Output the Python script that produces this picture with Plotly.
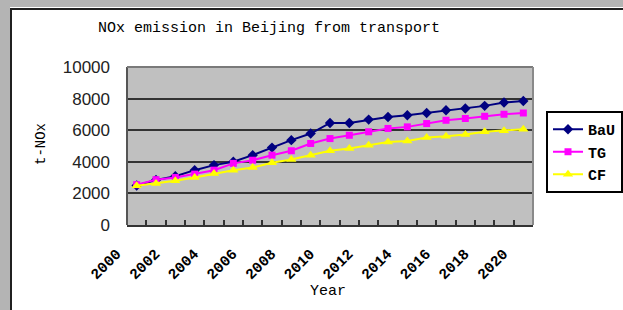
import plotly.graph_objects as go

# ---------------- data ----------------
years = list(range(2000, 2021))
bau = [2500, 2850, 3090, 3470, 3790, 4000, 4420, 4900, 5370, 5790, 6460,
       6460, 6670, 6840, 6950, 7090, 7260, 7370, 7540, 7750, 7850]
tg = [2550, 2870, 3010, 3220, 3470, 3900, 4100, 4420, 4700, 5160, 5470,
      5680, 5900, 6110, 6210, 6420, 6630, 6740, 6880, 7010, 7090]
cf = [2480, 2630, 2800, 3010, 3260, 3470, 3640, 3940, 4150, 4420, 4700,
      4840, 5050, 5260, 5310, 5540, 5620, 5730, 5900, 5960, 6060]
label_years = list(range(2000, 2021, 2))
label_text = [str(y) for y in label_years]
series_names = ["BaU", "TG", "CF"]
y_ticks = [0, 2000, 4000, 6000, 8000, 10000]
y_text = [str(v) for v in y_ticks]

# ---------------- layout geometry ----------------
W, H = 623, 310
L, R, T, B = 127, 533, 67, 225


def px(x):
    return (x - L) / (R - L)


def py(y):
    return (B - y) / (B - T)


MONO = "Liberation Mono, Courier New, monospace"
SANS = "Liberation Sans, Arial, sans-serif"

fig = go.Figure()
styles = [
    dict(color="#000080", symbol="diamond", size=8),
    dict(color="#ff00ff", symbol="square", size=7),
    dict(color="#ffff00", symbol="triangle-up", size=9),
]
for name, vals, st in zip(series_names, [bau, tg, cf], styles):
    fig.add_trace(go.Scatter(
        x=years, y=vals, name=name, mode="lines+markers",
        line=dict(color=st["color"], width=2),
        marker=dict(color=st["color"], symbol=st["symbol"], size=st["size"],
                    line=dict(width=0)),
    ))

shapes = [
    # outer grey window frame
    dict(type="rect", xref="paper", yref="paper", x0=px(0), x1=px(W), y0=py(7), y1=py(0),
         fillcolor="#b4b4b4", line=dict(width=0), layer="above"),
    dict(type="rect", xref="paper", yref="paper", x0=px(0), x1=px(10), y0=py(H), y1=py(0),
         fillcolor="#b4b4b4", line=dict(width=0), layer="above"),
    dict(type="line", xref="paper", yref="paper", x0=px(10), x1=px(W), y0=py(9), y1=py(9),
         line=dict(color="#202020", width=2), layer="above"),
    dict(type="line", xref="paper", yref="paper", x0=px(11), x1=px(11), y0=py(9), y1=py(H),
         line=dict(color="#202020", width=2), layer="above"),
    # plot-area border (left, top, right)
    dict(type="line", xref="paper", yref="paper", x0=0, x1=0, y0=0, y1=1,
         line=dict(color="#555555", width=2), layer="above"),
    dict(type="line", xref="paper", yref="paper", x0=0, x1=1, y0=1, y1=1,
         line=dict(color="#7a7a7a", width=2), layer="above"),
    dict(type="line", xref="paper", yref="paper", x0=1, x1=1, y0=0, y1=1,
         line=dict(color="#8a8a8a", width=2), layer="above"),
]

annotations = [
    dict(text="Year", xref="paper", yref="paper", x=px(328), y=py(291),
         showarrow=False, xanchor="center", yanchor="middle",
         font=dict(family=MONO, size=15, color="#000000")),
    dict(text="t-NOx", xref="paper", yref="paper", x=px(41), y=py(144),
         showarrow=False, xanchor="center", yanchor="middle", textangle=-90,
         font=dict(family=MONO, size=14, color="#000000")),
]

fig.update_layout(
    width=W, height=H,
    margin=dict(l=L, r=W - R, t=T, b=H - B, pad=0),
    paper_bgcolor="#ffffff",
    plot_bgcolor="#c0c0c0",
    title=dict(text="NOx emission in Beijing from transport",
               x=px(269), xref="paper", xanchor="center",
               y=1 - 27 / H, yref="container", yanchor="middle",
               font=dict(family=MONO, size=15, color="#000000")),
    showlegend=True,
    legend=dict(xref="container", yref="container", x=546 / W, y=1 - 111 / H,
                xanchor="left", yanchor="top",
                bgcolor="#ffffff", bordercolor="#000000", borderwidth=2,
                font=dict(family=MONO, size=15, color="#000000", weight="bold"),
                itemwidth=30),
    shapes=shapes,
    annotations=annotations,
    xaxis=dict(
        range=[1999.5, 2020.5], tickmode="array", tickvals=label_years,
        ticktext=label_text, tickangle=-45, ticks="",
        tickfont=dict(family=MONO, size=15, color="#000000", weight="bold"),
        ticklabelstandoff=12, ticklabelshift=-20,
        showgrid=False, zeroline=False,
        showline=True, linecolor="#333333", linewidth=2,
        minor=dict(ticks="inside", ticklen=5, tickwidth=2, tickcolor="#333333",
                   tick0=1999.5, dtick=1, showgrid=False),
    ),
    yaxis=dict(
        range=[0, 10000], tickmode="array", tickvals=y_ticks, ticktext=y_text,
        ticks="", showgrid=True, gridcolor="#333333", gridwidth=2,
        zeroline=False, showline=False,
        tickfont=dict(family=SANS, size=17, color="#222222"),
        ticklabelstandoff=16,
    ),
)

fig.write_html("out.html", config={"displayModeBar": False},
               post_script="document.body.style.margin='0';")
